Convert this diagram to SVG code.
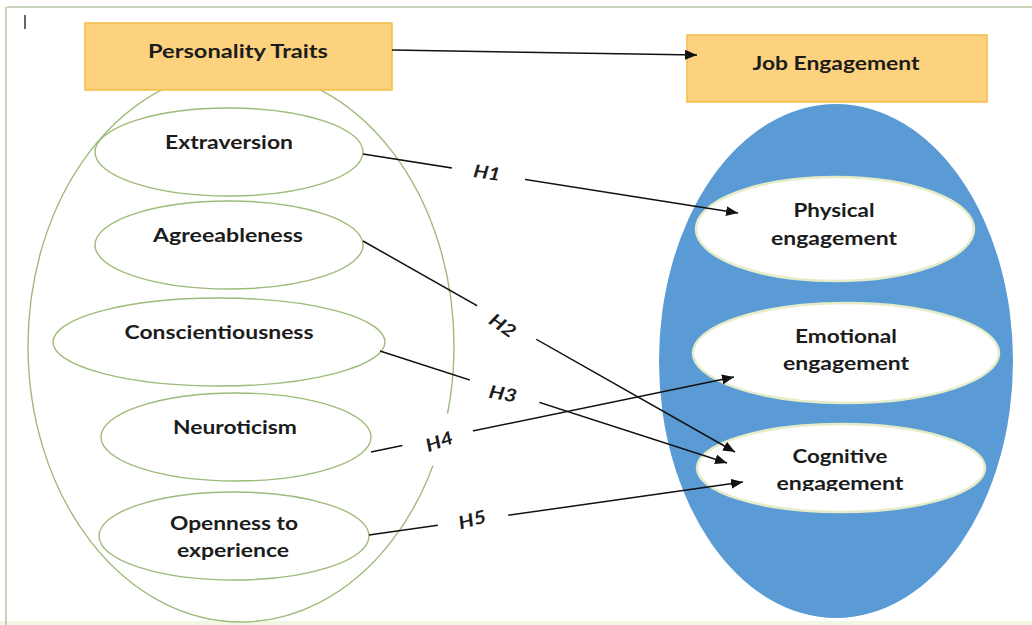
<svg xmlns="http://www.w3.org/2000/svg" width="1032" height="625" viewBox="0 0 1032 625">
  <defs>
    <marker id="arrow" markerUnits="userSpaceOnUse" markerWidth="12" markerHeight="10" refX="12" refY="5" orient="auto">
      <path d="M0,0 L12,5 L0,10 Z" fill="#111"/>
    </marker>
    <clipPath id="clip-cognitive">
      <rect x="690" y="420" width="300" height="71"/>
    </clipPath>
    <style>
      .box { fill: #fdd27e; stroke: #f3bd45; stroke-width: 1.5; }
      .trait { fill: #fff; stroke: #9dbb79; stroke-width: 1.4; }
      .group-outline { fill: none; stroke: #9dbb79; stroke-width: 1.4; }
      .dim { fill: #fff; stroke: #e4edc8; stroke-width: 2.5; }
      .label { font-family: Lato, "Open Sans", "Liberation Sans", sans-serif; font-weight: bold; font-size: 18px; fill: #1c1c1c; text-anchor: middle; }
      .hyp { font-family: Lato, "Open Sans", "Liberation Sans", sans-serif; font-weight: bold; font-style: italic; font-size: 18px; fill: #1c1c1c; text-anchor: middle; dominant-baseline: central; }
      .link { fill: none; stroke: #111; stroke-width: 1.5; marker-end: url(#arrow); }
      .gap { fill: #fff; }
    </style>
  </defs>

  <!-- page background and frame -->
  <rect x="0" y="0" width="1032" height="625" fill="#fff"/>
  <rect x="0" y="621" width="1032" height="4" fill="#f2f7e4"/>
  <line x1="7" y1="7" x2="1032" y2="7" stroke="#b5c4a5" stroke-width="1.5"/>
  <line x1="6" y1="7" x2="6" y2="625" stroke="#b5c4a5" stroke-width="1.5"/>
  <line x1="25" y1="15" x2="25" y2="29" stroke="#333" stroke-width="1.5"/>

  <!-- left group: personality traits -->
  <g id="traits-group">
    <ellipse class="group-outline" cx="241" cy="346" rx="213" ry="276"/>
  </g>

  <g id="extraversion">
    <ellipse class="trait" cx="229" cy="152" rx="134" ry="44"/>
    <text class="label" x="229" y="149" textLength="128" lengthAdjust="spacingAndGlyphs">Extraversion</text>
  </g>
  <g id="agreeableness">
    <ellipse class="trait" cx="229" cy="245" rx="134" ry="44"/>
    <text class="label" x="228" y="242" textLength="150" lengthAdjust="spacingAndGlyphs">Agreeableness</text>
  </g>
  <g id="conscientiousness">
    <ellipse class="trait" cx="219" cy="342" rx="166" ry="44"/>
    <text class="label" x="219" y="339" textLength="189" lengthAdjust="spacingAndGlyphs">Conscientiousness</text>
  </g>
  <g id="neuroticism">
    <ellipse class="trait" cx="236" cy="437" rx="135" ry="44"/>
    <text class="label" x="235" y="434" textLength="124" lengthAdjust="spacingAndGlyphs">Neuroticism</text>
  </g>
  <g id="openness">
    <ellipse class="trait" cx="234" cy="536" rx="135" ry="44"/>
    <text class="label" x="234" y="530" textLength="128" lengthAdjust="spacingAndGlyphs">Openness to</text>
    <text class="label" x="233" y="557" textLength="112" lengthAdjust="spacingAndGlyphs">experience</text>
  </g>

  <g id="personality-traits">
    <rect class="box" x="85" y="23" width="307" height="67"/>
    <text class="label" x="238" y="58" textLength="180" lengthAdjust="spacingAndGlyphs">Personality Traits</text>
  </g>

  <!-- right group: job engagement -->
  <g id="engagement-group">
    <ellipse cx="836" cy="361" rx="177" ry="257" fill="#5b9bd5"/>
  </g>

  <g id="job-engagement">
    <rect class="box" x="687" y="35" width="300" height="67"/>
    <text class="label" x="836" y="70" textLength="167" lengthAdjust="spacingAndGlyphs">Job Engagement</text>
  </g>

  <g id="physical-engagement">
    <ellipse class="dim" cx="835" cy="229" rx="139" ry="52"/>
    <text class="label" x="834" y="217" textLength="81" lengthAdjust="spacingAndGlyphs">Physical</text>
    <text class="label" x="834" y="245" textLength="126" lengthAdjust="spacingAndGlyphs">engagement</text>
  </g>
  <g id="emotional-engagement">
    <ellipse class="dim" cx="846" cy="353" rx="153" ry="50"/>
    <text class="label" x="846" y="343" textLength="102" lengthAdjust="spacingAndGlyphs">Emotional</text>
    <text class="label" x="846" y="370" textLength="126" lengthAdjust="spacingAndGlyphs">engagement</text>
  </g>
  <g id="cognitive-engagement">
    <ellipse class="dim" cx="841" cy="468" rx="144" ry="44"/>
    <text class="label" x="840" y="463" textLength="95" lengthAdjust="spacingAndGlyphs">Cognitive</text>
    <text class="label" x="840" y="490" textLength="127" lengthAdjust="spacingAndGlyphs" clip-path="url(#clip-cognitive)">engagement</text>
  </g>

  <!-- connectors -->
  <g id="connectors">
    <line class="link" x1="392" y1="50" x2="697" y2="55"/>
    <line class="link" x1="363" y1="154" x2="738" y2="213"/>
    <line class="link" x1="363" y1="241" x2="735" y2="452"/>
    <line class="link" x1="380" y1="351" x2="727" y2="463"/>
    <line class="link" x1="371" y1="452" x2="734" y2="377"/>
    <line class="link" x1="369" y1="535" x2="743" y2="482"/>
  </g>

  <!-- hypothesis labels sitting on the connectors -->
  <g id="hypothesis-labels">
    <g id="h1">
      <rect class="gap" x="-37" y="-14" width="74" height="28" transform="translate(488.5 173.5) rotate(8.9)"/>
      <text class="hyp" transform="translate(487 172) rotate(8)" textLength="27" lengthAdjust="spacingAndGlyphs">H1</text>
    </g>
    <g id="h2">
      <rect class="gap" x="-34" y="-14" width="68" height="28" transform="translate(506.5 323) rotate(29.8)"/>
      <text class="hyp" transform="translate(503 325) rotate(35)" textLength="28" lengthAdjust="spacingAndGlyphs">H2</text>
    </g>
    <g id="h3">
      <rect class="gap" x="-36.5" y="-14" width="73" height="28" transform="translate(504.5 391.5) rotate(18)"/>
      <text class="hyp" transform="translate(503 393) rotate(10)" textLength="28" lengthAdjust="spacingAndGlyphs">H3</text>
    </g>
    <g id="h4">
      <rect class="gap" x="-36" y="-24" width="72" height="48" transform="translate(438 440) rotate(-11.7)"/>
      <text class="hyp" transform="translate(439 441) rotate(-20)" textLength="28" lengthAdjust="spacingAndGlyphs">H4</text>
    </g>
    <g id="h5">
      <rect class="gap" x="-35.5" y="-14" width="71" height="28" transform="translate(473 520) rotate(-8)"/>
      <text class="hyp" transform="translate(472 519) rotate(-15)" textLength="28" lengthAdjust="spacingAndGlyphs">H5</text>
    </g>
  </g>
</svg>
